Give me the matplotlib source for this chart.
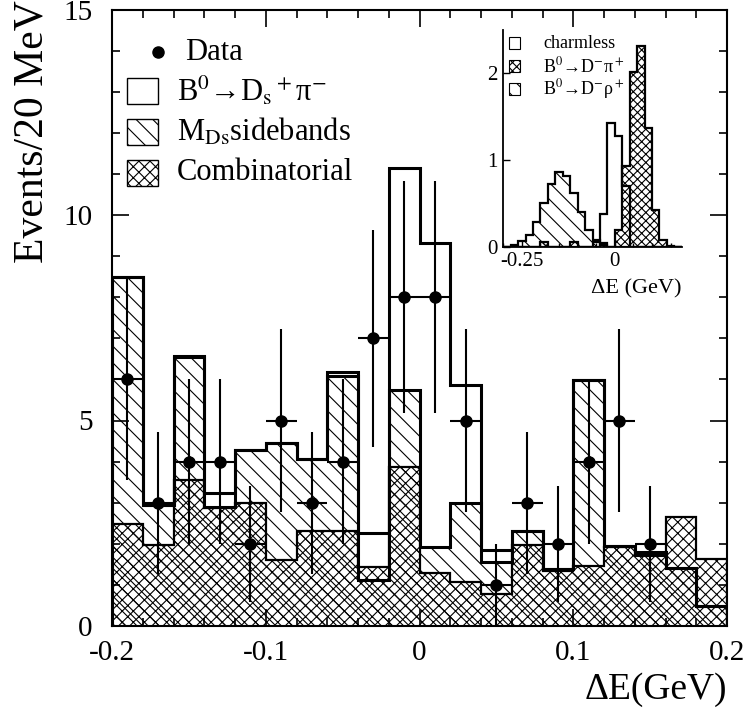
import numpy as np
import matplotlib.pyplot as plt
from matplotlib.patches import Rectangle
from matplotlib.ticker import MultipleLocator, FixedLocator, FuncFormatter

plt.rcParams['font.family'] = ['Liberation Serif', 'DejaVu Serif']
plt.rcParams['mathtext.fontset'] = 'stix'
plt.rcParams['axes.unicode_minus'] = False
plt.rcParams['hatch.linewidth'] = 0.8

# main plot: 20 MeV bins in Delta E
de_edges = np.linspace(-0.2, 0.2, 21)
total = [8.50, 2.95, 6.57, 3.23, 4.28, 4.46, 4.06, 6.18, 2.27, 11.15,
         9.32, 5.87, 1.85, 2.30, 1.38, 5.99, 1.95, 1.81, 1.40, 0.49]
sideband_stack = [8.50, 2.95, 6.55, 2.90, 4.28, 4.46, 4.06, 6.09, 1.12, 5.75,
                  1.93, 2.99, 1.55, 2.30, 1.38, 5.99, 1.95, 1.73, 1.40, 0.49]
combinatorial = [2.48, 1.97, 3.55, 2.86, 3.00, 1.61, 2.31, 2.31, 1.44, 3.88,
                 1.28, 1.08, 0.77, 1.97, 1.35, 1.46, 1.92, 1.73, 2.66, 1.62]
data_counts = [6, 3, 4, 4, 2, 5, 3, 4, 7, 8, 8, 5, 1, 3, 2, 4, 5, 2, 0, 0]

# inset: MC shapes
inset_edges = np.linspace(-0.30, 0.18, 25)
charmless = [0, 0, 0, 0, 0, 0, 0, 0, 0, 0, 0, 0,
             0.05, 0.38, 1.43, 1.28, 0.70, 0, 0, 0, 0, 0, 0, 0]
d_pi = [0, 0, 0, 0, 0, 0.05, 0, 0, 0, 0.05, 0, 0,
        0, 0.04, 0, 0.19, 0.93, 2.01, 2.31, 1.37, 0.42, 0.08, 0.01, 0]
d_rho = [0, 0.02, 0.06, 0.13, 0.29, 0.50, 0.72, 0.86, 0.81, 0.62, 0.40, 0.19,
         0.08, 0.02, 0, 0, 0, 0, 0, 0, 0, 0, 0, 0]


def hist(ax, vals, edges, lw, hatch=None, face='none', z=1):
    ax.stairs(vals, edges, baseline=0, fill=True, facecolor=face,
              edgecolor='black', hatch=hatch, linewidth=0, zorder=z)
    ax.stairs(vals, edges, baseline=0, fill=False, edgecolor='black',
              linewidth=lw, zorder=z + 3)


def zero_fmt(v, p):
    return '0' if abs(v) < 1e-9 else f'{v:g}'


fig = plt.figure(figsize=(7.49, 7.25), dpi=100)
ax = fig.add_axes([112 / 749, 99 / 725, 615 / 749, 616.5 / 725])

hist(ax, total, de_edges, 2.2, face='white', z=1)
hist(ax, sideband_stack, de_edges, 2.2, hatch='\\\\', z=2)
hist(ax, combinatorial, de_edges, 1.6, hatch='xxx', z=2)

centers = 0.5 * (de_edges[:-1] + de_edges[1:])
counts = np.array(data_counts, dtype=float)
sel = counts > 0
ax.errorbar(centers[sel], counts[sel], yerr=np.sqrt(counts[sel]), xerr=0.01,
            fmt='o', color='black', ms=8, elinewidth=1.5, capsize=0, zorder=8)

ax.set_xlim(-0.2, 0.2)
ax.set_ylim(0, 15)
ax.xaxis.set_major_locator(MultipleLocator(0.1))
ax.xaxis.set_minor_locator(MultipleLocator(0.02))
ax.yaxis.set_major_locator(MultipleLocator(5))
ax.yaxis.set_minor_locator(MultipleLocator(1))
ax.xaxis.set_major_formatter(FuncFormatter(zero_fmt))
ax.tick_params(which='both', direction='in', top=True, right=True, width=1.2, labelsize=21)
ax.tick_params(which='major', length=12)
ax.tick_params(which='minor', length=6)
ax.tick_params(axis='x', pad=10)
ax.tick_params(axis='y', pad=14)
for s in ax.spines.values():
    s.set_linewidth(1.5)

ax.set_xlabel('ΔE(GeV)', fontsize=27, loc='right')
ax.xaxis.set_label_coords(1.0, -0.075)
ax.set_ylabel('Events/20 MeV', fontsize=30, loc='top')
ax.yaxis.set_label_coords(-0.098, 1.015)

# legend drawn by hand
bx, bw, bh = 0.0244, 0.0504, 0.0406
tx = 0.106
ax.plot([0.0748], [0.931], 'o', color='black', ms=8, transform=ax.transAxes, zorder=9)
ax.text(tx + 0.012, 0.931, 'Data', fontsize=22, va='center', transform=ax.transAxes)
rows = [
    (0.8678, None, r'B$^0$→D$_\mathrm{s}$$^+$π$^\mathrm{-}$'),
    (0.8013, '\\\\', r'M$_\mathrm{Ds}$sidebands'),
    (0.7348, 'xxx', 'Combinatorial'),
]
for yc, hatch, label in rows:
    ax.add_patch(Rectangle((bx, yc - bh / 2), bw, bh, transform=ax.transAxes,
                           facecolor='white', edgecolor='black', hatch=hatch,
                           linewidth=1.0, zorder=9))
    ax.text(tx, yc, label, fontsize=22, va='center', transform=ax.transAxes)

# inset
ins = fig.add_axes([503.3 / 749, (725 - 246.7) / 725, 178.4 / 749, 216.7 / 725])
ins.set_facecolor('none')
hist(ins, charmless, inset_edges, 1.6, face='white', z=1)
hist(ins, d_rho, inset_edges, 1.6, hatch='\\\\', z=2)
hist(ins, d_pi, inset_edges, 1.6, hatch='xxxx', z=2)
ins.set_xlim(-0.30, 0.18)
ins.set_ylim(0, 2.5)
ins.spines['top'].set_visible(False)
ins.spines['right'].set_visible(False)
for s in ('left', 'bottom'):
    ins.spines[s].set_linewidth(1.3)
ins.xaxis.set_major_locator(FixedLocator([-0.25, 0]))
ins.xaxis.set_minor_locator(FixedLocator([-0.3, -0.2, -0.15, -0.1, -0.05, 0.05, 0.1, 0.15]))
ins.xaxis.set_major_formatter(FuncFormatter(zero_fmt))
ins.yaxis.set_major_locator(FixedLocator([0, 1, 2]))
ins.tick_params(which='both', direction='in', labelsize=15, width=1.0, pad=4)
ins.tick_params(which='major', length=5)
ins.tick_params(which='minor', length=3)
ins.set_xlabel('ΔE (GeV)', fontsize=16, loc='right')
ins.xaxis.set_label_coords(1.0, -0.15)

ibx, ibw, ibh = 0.032, 0.062, 0.055
itx = 0.2225
irows = [
    (0.94, None, 'charmless'),
    (0.834, 'xxxx', r'B$^0$→D$^\mathrm{-}$π$^+$'),
    (0.728, '\\\\', r'B$^0$→D$^\mathrm{-}$ρ$^+$'),
]
for yc, hatch, label in irows:
    ins.add_patch(Rectangle((ibx, yc - ibh / 2), ibw, ibh, transform=ins.transAxes,
                            facecolor='white', edgecolor='black', hatch=hatch,
                            linewidth=0.8, zorder=9))
    ins.text(itx, yc, label, fontsize=13, va='center', transform=ins.transAxes)

fig.savefig('out.png', dpi=100)
